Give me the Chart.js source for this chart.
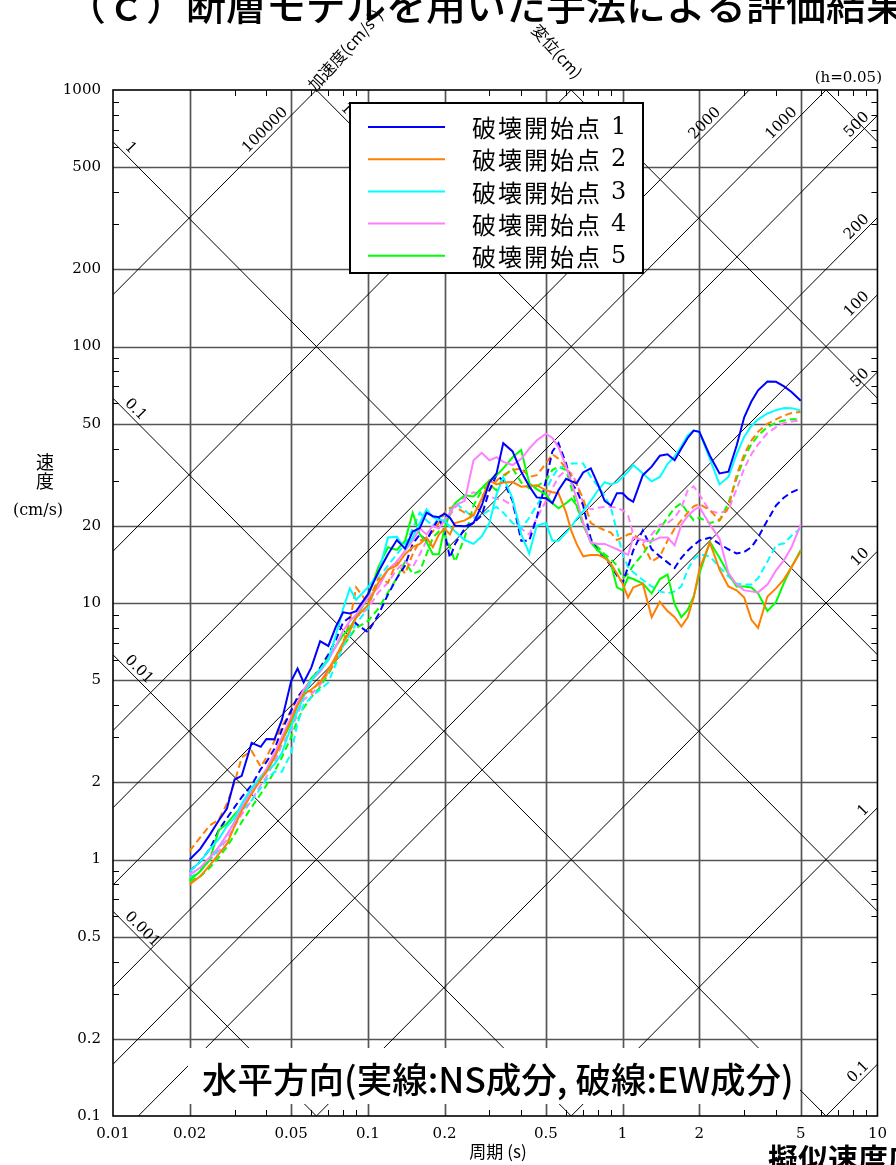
<!DOCTYPE html>
<html><head><meta charset="utf-8">
<script src="https://cdn.jsdelivr.net/npm/chart.js@4.4.0/dist/chart.umd.min.js"></script>
<style>html,body{margin:0;padding:0;background:#fff;}canvas{display:block;}</style>
</head><body>
<canvas id="c" width="896" height="1165"></canvas>
<script>
// ---- data ----
const periods = [0.02,0.022,0.024,0.026,0.028, 0.03,0.032,0.035,0.038,0.04, 0.043,0.046,0.05,0.053,0.056,
  0.06,0.065,0.07,0.075,0.08, 0.085,0.09,0.1,0.11,0.12, 0.13,0.14,0.15,0.16,0.17,
  0.18,0.19,0.2,0.21,0.22, 0.24,0.26,0.28,0.3,0.32, 0.34,0.37,0.4,0.43,0.46,
  0.5,0.53,0.56,0.6,0.63, 0.66,0.7,0.75,0.8,0.85, 0.9,0.95,1.0,1.05,1.1,
  1.2,1.3,1.4,1.5,1.6, 1.7,1.8,1.9,2.0,2.2, 2.4,2.6,2.8,3.0,3.2, 3.4,3.7,4.0,4.3,4.6, 5.0];

const pt1NS = [1.0,1.1,1.25,1.42,1.58, 2.05,2.12,2.85,2.75,2.95, 2.94,3.5,4.95,5.55,4.9,
  5.6,7.1,6.8,8.1,9.2, 9.1,9.3,10.8,13.2,15.5, 17.6,16.3,19.0,19.6,22.5,
  21.8,21.6,22.3,21.5,20.0, 19.9,20.5,24.0,29.5,32.0, 42.0,39.0,32.5,28.5,25.8,
  25.6,24.5,27.5,30.5,29.8, 29.3,32.3,33.5,29.0,25.0, 24.0,26.8,26.8,25.5,24.8,
  31.5,34.0,37.5,38.0,36.0, 40.0,44.0,47.0,46.5,37.5, 32.0,32.5,41.0,53.0,61.0, 67.5,73.0,72.8,69.9,66.5, 61.5];
const pt1EW = [0.9,0.98,1.1,1.3,1.45, 1.6,1.75,1.95,2.25,2.4, 2.7,3.2,3.8,4.3,4.6,
  5.0,5.6,6.3,7.2,8.4, 8.8,8.3,7.7,9.0,10.8, 12.5,14.0,17.0,18.5,17.5,
  19.5,21.5,19.0,15.0,17.0, 19.5,20.5,22.0,27.5,31.5, 30.0,25.0,17.5,17.5,21.5,
  30.0,39.0,42.0,35.0,29.3, 27.5,24.0,17.8,16.0,15.0, 14.0,12.8,12.0,13.8,16.0,
  19.2,16.2,15.2,14.4,13.7, 15.0,16.0,16.8,17.5,18.0, 17.0,16.2,15.6,15.8,16.5, 18.0,21.0,24.0,25.8,27.0, 28.0];
const pt2NS = [0.8,0.86,0.95,1.05,1.15, 1.35,1.55,1.8,2.05,2.2, 2.5,2.9,3.5,4.0,4.4,
  4.6,4.9,5.5,6.2,7.0, 7.8,8.8,9.8,12.0,13.5, 14.0,15.5,16.5,17.0,18.0,
  16.5,18.5,19.5,18.5,20.5, 21.0,22.0,25.5,30.0,29.0, 29.5,29.6,28.4,28.6,28.8,
  27.5,27.0,26.8,22.5,19.0, 17.0,15.2,15.4,15.4,15.0, 14.2,13.0,11.9,10.5,11.5,
  11.9,8.8,10.1,9.3,8.8, 8.1,8.8,10.5,13.5,17.2, 13.5,11.6,11.2,10.5,8.6, 8.0,10.6,11.4,12.4,13.8, 15.9];
const pt2EW = [1.08,1.22,1.36,1.43,1.65, 2.0,2.5,2.65,2.3,2.5, 2.9,3.3,3.8,4.3,4.6,
  4.5,5.0,5.3,6.0,7.0, 8.5,11.5,10.0,12.5,12.0, 14.5,13.0,15.5,17.5,18.0,
  19.0,20.5,22.5,23.5,23.7, 22.5,22.0,25.0,27.5,30.0, 31.5,33.0,33.5,31.0,31.5,
  35.0,38.0,36.5,33.5,31.5, 29.0,25.5,20.5,19.8,19.2, 18.8,17.6,18.0,18.5,18.7,
  17.0,14.5,15.2,17.5,19.5, 21.0,22.5,23.8,24.3,23.0, 21.0,23.5,31.5,38.0,43.0, 46.5,50.0,52.0,53.8,55.0, 55.7];
const pt3NS = [0.9,0.98,1.1,1.2,1.35, 1.45,1.65,1.9,2.1,2.2, 2.35,2.6,3.3,3.8,4.3,
  5.0,5.5,6.0,7.5,9.5, 11.4,10.3,11.5,13.0,18.0, 18.1,16.2,18.0,20.5,23.2,
  21.6,21.1,21.0,19.8,19.0, 17.6,17.0,18.2,20.5,26.5, 31.0,25.5,18.5,15.6,20.0,
  20.5,17.5,17.5,18.8,19.9, 21.3,22.8,25.0,27.5,29.6, 29.0,29.5,31.0,32.5,34.5,
  32.0,29.8,31.0,34.8,37.3, 40.8,45.0,47.0,46.5,36.5, 29.0,31.0,38.0,44.5,49.0, 52.0,54.8,56.5,57.6,57.5, 56.3];
const pt3EW = [0.85,0.9,1.0,1.1,1.25, 1.4,1.55,1.7,1.9,2.05, 2.2,2.2,2.6,3.4,4.0,
  4.3,4.6,4.9,5.8,6.8, 7.5,8.3,9.5,12.5,14.0, 15.5,17.0,19.5,22.5,21.0,
  20.0,21.5,22.0,23.0,24.5, 23.0,21.5,22.0,23.0,23.7, 22.5,20.5,19.5,21.5,24.0,
  27.5,31.0,33.5,34.5,35.0, 35.0,35.0,31.0,28.5,26.2, 23.5,19.0,15.5,13.8,13.2,
  12.3,11.6,11.1,10.9,11.1, 11.6,13.5,14.8,15.5,15.2, 13.8,12.7,11.9,11.8,11.8, 12.5,14.5,16.8,17.1,18.3, 19.6];
const pt4NS = [0.87,0.93,1.02,1.12,1.25, 1.4,1.6,1.85,2.1,2.25, 2.6,3.0,3.6,4.1,4.6,
  5.0,5.4,6.0,6.8,7.8, 8.5,9.0,10.5,11.5,13.5, 14.5,16.0,17.5,19.5,18.5,
  20.0,19.5,21.0,22.5,24.0, 25.0,36.0,38.5,36.0,37.0, 35.5,34.5,36.5,40.0,43.0,
  45.7,44.0,40.5,34.0,29.5, 25.5,20.5,17.2,17.0,17.0, 16.6,16.2,15.8,15.4,18.0,
  17.6,17.4,18.0,18.0,16.8, 20.2,21.8,23.0,23.7,20.2, 17.8,13.1,11.8,11.2,11.1, 11.0,11.8,13.4,14.7,16.5, 20.2];
const pt4EW = [0.88,0.92,1.0,1.08,1.2, 1.35,1.5,1.7,1.95,2.1, 2.4,2.8,3.2,3.7,4.2,
  4.4,4.8,5.4,6.2,7.0, 7.8,8.8,9.5,11.0,12.0, 13.5,14.5,13.8,15.5,17.5,
  19.5,21.0,20.5,22.0,23.5, 26.0,27.0,26.5,26.0,25.5, 25.2,24.0,19.5,18.5,21.4,
  25.0,28.0,31.0,33.0,32.0, 29.5,24.5,23.2,23.5,23.7, 23.7,23.5,23.0,22.0,18.5,
  17.1,18.5,20.2,20.5,21.5, 23.5,27.5,28.5,26.5,22.8, 22.4,23.0,27.8,33.5,38.0, 41.5,46.0,48.5,50.3,51.0, 51.5];
const pt5NS = [0.83,0.9,1.0,1.3,1.38, 1.5,1.6,1.9,2.05,2.2, 2.5,2.9,3.4,4.0,4.5,
  5.1,5.5,6.1,6.8,7.5, 8.0,8.8,10.5,13.8,16.5, 16.1,17.5,22.5,18.5,17.3,
  15.5,15.5,19.5,22.4,24.5, 26.3,26.0,28.0,30.0,31.5, 33.5,37.0,39.5,29.3,27.8,
  26.5,24.5,23.4,24.5,25.5, 24.0,20.5,17.2,16.0,15.3, 14.2,11.5,11.2,12.6,12.4,
  11.9,10.9,12.4,12.9,9.9, 8.8,9.4,10.6,13.0,17.3, 15.0,13.0,11.6,11.6,11.5, 10.9,9.3,10.1,12.0,13.8, 16.1];
const pt5EW = [0.82,0.86,0.93,1.02,1.12, 1.25,1.4,1.6,1.8,1.95, 2.2,2.5,3.0,3.5,3.9,
  4.3,4.7,5.3,6.0,6.8, 7.4,8.0,8.5,9.5,11.0, 12.5,14.5,13.0,13.3,15.5,
  18.0,19.0,18.5,16.5,14.5, 18.0,24.0,27.5,29.0,27.5, 31.0,33.5,29.5,28.0,28.5,
  30.0,33.0,34.0,33.0,28.0, 24.0,20.0,17.5,16.5,15.5, 14.8,14.0,12.5,13.0,14.0,
  15.5,17.5,19.5,21.5,23.5, 24.5,22.5,21.0,21.5,20.5, 21.0,24.5,30.5,37.0,41.5, 45.0,48.5,50.5,51.5,52.0, 52.0];

const legendNames = ['破壊開始点','破壊開始点','破壊開始点','破壊開始点','破壊開始点'];
const legendNums = ['1','2','3','4','5'];
const seriesColors = ['#0000ff','#ff8000','#00ffff','#ff80ff','#00ff00'];
const xTickVals = [0.01,0.02,0.05,0.1,0.2,0.5,1,2,5,10];
const yTickVals = [0.1,0.2,0.5,1,2,5,10,20,50,100,200,500,1000];
const accLines = [0.1,1,10,50,100,200,500,1000,2000,10000,100000];   // cm/s2
const dispLines = [0.001,0.01,0.1,1,10,100,1000];                     // cm
const dispLabelled = [0.001,0.01,0.1,1,10,100];

// ---- chart ----
const nsSets = [pt1NS,pt2NS,pt3NS,pt4NS,pt5NS];
const ewSets = [pt1EW,pt2EW,pt3EW,pt4EW,pt5EW];
const toPts = v => periods.map((t,i)=>({x:t,y:v[i]}));
const datasets = [];
nsSets.forEach((v,i)=>datasets.push({label:legendNames[i]+' '+legendNums[i]+' NS',data:toPts(v),borderColor:seriesColors[i],borderWidth:2,pointRadius:0,showLine:true,fill:false,tension:0}));
ewSets.forEach((v,i)=>datasets.push({label:legendNames[i]+' '+legendNums[i]+' EW',data:toPts(v),borderColor:seriesColors[i],borderWidth:2,borderDash:[7,4],pointRadius:0,showLine:true,fill:false,tension:0}));

const SERIF = '"DejaVu Serif", "Liberation Serif", serif';
const JP = '"Noto Sans CJK JP", "Noto Sans", sans-serif';
const TWO_PI = 2*Math.PI;

function fmt(v){ return String(v); }

const tripartite = {
  id:'tripartite',
  beforeDatasetsDraw(chart){
    const {ctx, chartArea:a, scales:{x,y}} = chart;
    const P = (t,v)=>[x.getPixelForValue(t), y.getPixelForValue(v)];
    ctx.save();
    // main grid
    ctx.strokeStyle = '#555'; ctx.lineWidth = 1.7;
    xTickVals.slice(1,-1).forEach(t=>{const px=Math.round(x.getPixelForValue(t))+0.5; ctx.beginPath(); ctx.moveTo(px,a.top); ctx.lineTo(px,a.bottom); ctx.stroke();});
    yTickVals.slice(1,-1).forEach(v=>{const py=Math.round(y.getPixelForValue(v))+0.5; ctx.beginPath(); ctx.moveTo(a.left,py); ctx.lineTo(a.right,py); ctx.stroke();});
    // minor ticks
    ctx.strokeStyle = '#000'; ctx.lineWidth = 1;
    const mins = [3,4,6,7,8,9];
    [0.01,0.1,1].forEach(d=>mins.forEach(m=>{const px=Math.round(x.getPixelForValue(d*m))+0.5; ctx.beginPath(); ctx.moveTo(px,a.top); ctx.lineTo(px,a.top+6); ctx.moveTo(px,a.bottom); ctx.lineTo(px,a.bottom-6); ctx.stroke();}));
    [0.1,1,10,100].forEach(d=>mins.forEach(m=>{const py=Math.round(y.getPixelForValue(d*m))+0.5; ctx.beginPath(); ctx.moveTo(a.left,py); ctx.lineTo(a.left+6,py); ctx.moveTo(a.right,py); ctx.lineTo(a.right-6,py); ctx.stroke();}));
    // diagonals
    ctx.save();
    ctx.beginPath(); ctx.rect(a.left,a.top,a.right-a.left,a.bottom-a.top); ctx.clip();
    ctx.strokeStyle = '#000'; ctx.lineWidth = 1;
    const Tmin=x.min, Tmax=x.max, Vmin=y.min, Vmax=y.max;
    const accSeg = A => { const t1=Math.max(Tmin,TWO_PI*Vmin/A), t2=Math.min(Tmax,TWO_PI*Vmax/A); return [t1,A*t1/TWO_PI,t2,A*t2/TWO_PI]; };
    const dispSeg = D => { const t1=Math.max(Tmin,TWO_PI*D/Vmax), t2=Math.min(Tmax,TWO_PI*D/Vmin); return [t1,TWO_PI*D/t1,t2,TWO_PI*D/t2]; };
    accLines.forEach(A=>{const s=accSeg(A); if(s[0]>=s[2]) return; const p1=P(s[0],s[1]), p2=P(s[2],s[3]); ctx.beginPath(); ctx.moveTo(p1[0],p1[1]); ctx.lineTo(p2[0],p2[1]); ctx.stroke();});
    dispLines.forEach(D=>{const s=dispSeg(D); if(s[0]>=s[2]) return; const p1=P(s[0],s[1]), p2=P(s[2],s[3]); ctx.beginPath(); ctx.moveTo(p1[0],p1[1]); ctx.lineTo(p2[0],p2[1]); ctx.stroke();});
    ctx.restore();
    // diagonal labels
    ctx.fillStyle = '#000'; ctx.font = '15px '+SERIF;
    accLines.forEach(A=>{
      const s=accSeg(A); if(s[0]>=s[2]) return;
      const p1=P(s[0],s[1]), p2=P(s[2],s[3]);
      const ang=Math.atan2(p2[1]-p1[1],p2[0]-p1[0]);
      const L=Math.hypot(p2[0]-p1[0],p2[1]-p1[1]);
      const ux=(p1[0]-p2[0])/L, uy=(p1[1]-p2[1])/L;
      const d = (s[2]>=Tmax-1e-9) ? 7 : 36;
      ctx.save(); ctx.translate(p2[0]+ux*d, p2[1]+uy*d); ctx.rotate(ang);
      ctx.textAlign='right'; ctx.textBaseline='alphabetic'; ctx.fillText(fmt(A),0,-4); ctx.restore();
    });
    dispLabelled.forEach(D=>{
      const s=dispSeg(D); if(s[0]>=s[2]) return;
      const p1=P(s[0],s[1]), p2=P(s[2],s[3]);
      const ang=Math.atan2(p2[1]-p1[1],p2[0]-p1[0]);
      const L=Math.hypot(p2[0]-p1[0],p2[1]-p1[1]);
      const ux=(p2[0]-p1[0])/L, uy=(p2[1]-p1[1])/L;
      const d = (s[0]<=Tmin+1e-12) ? 12 : 30;
      ctx.save(); ctx.translate(p1[0]+ux*d, p1[1]+uy*d); ctx.rotate(ang);
      ctx.textAlign='left'; ctx.textBaseline='alphabetic'; ctx.fillText(fmt(D),0,-4); ctx.restore();
    });
    ctx.restore();
  },
  afterDatasetsDraw(chart){
    const {ctx, chartArea:a} = chart;
    ctx.save();
    // annotation box
    ctx.fillStyle='#fff'; ctx.fillRect(188,1048,612,56);
    const note='水平方向(実線:NS成分, 破線:EW成分)';
    let fs=32; ctx.font='500 '+fs+'px '+JP;
    fs = fs*592/ctx.measureText(note).width; ctx.font='500 '+fs.toFixed(1)+'px '+JP;
    ctx.fillStyle='#000'; ctx.textAlign='left'; ctx.textBaseline='middle';
    ctx.fillText(note,202,1080);
    // border
    ctx.strokeStyle='#000'; ctx.lineWidth=1.6;
    ctx.strokeRect(a.left,a.top,a.right-a.left,a.bottom-a.top);
    // legend
    ctx.fillStyle='#fff'; ctx.fillRect(350,103,293,170);
    ctx.lineWidth=2; ctx.strokeStyle='#000'; ctx.strokeRect(350,103,293,170);
    ctx.textBaseline='middle'; ctx.textAlign='left';
    legendNames.forEach((n,i)=>{
      const yy=127+i*32.2;
      ctx.strokeStyle=seriesColors[i]; ctx.lineWidth=2; ctx.setLineDash([]);
      ctx.beginPath(); ctx.moveTo(368,yy); ctx.lineTo(445,yy); ctx.stroke();
      ctx.fillStyle='#000';
      ctx.font='24px '+JP; ctx.letterSpacing='2px'; ctx.fillText(n,472,yy+1);
      ctx.letterSpacing='0px';
      ctx.font='24px '+SERIF; ctx.fillText(legendNums[i],611,yy+1);
    });
    // axis titles and other texts
    ctx.fillStyle='#000';
    ctx.font='17px '+JP; ctx.textAlign='center'; ctx.textBaseline='middle';
    ctx.fillText('周期 (s)',498,1152);
    ctx.font='18px '+JP; ctx.fillText('速',45,462); ctx.fillText('度',45,481);
    ctx.font='16px '+SERIF; ctx.fillText('(cm/s)',38,511);
    ctx.textAlign='right'; ctx.font='15px '+SERIF; ctx.fillText('(h=0.05)',882,78);
    // rotated axis names
    ctx.font='16px '+JP; ctx.textAlign='left';
    ctx.save(); ctx.translate(311,88); ctx.rotate(-48*Math.PI/180); ctx.fillText('加速度(cm/s²)',0,0); ctx.restore();
    ctx.save(); ctx.translate(535,27); ctx.rotate(48*Math.PI/180); ctx.fillText('変位(cm)',0,0); ctx.restore();
    // cut-off page texts
    ctx.font='500 40px '+JP; ctx.textAlign='left'; ctx.textBaseline='middle';
    ctx.fillText('（ｃ）断層モデルを用いた手法による評価結果（破壊開始点の比較）',66,5);
    ctx.font='bold 30px '+JP; ctx.textBaseline='top';
    ctx.fillText('擬似速度応答スペクトル',768,1144);
    ctx.restore();
  }
};

new Chart(document.getElementById('c'), {
  type:'scatter',
  data:{datasets},
  options:{
    responsive:false, animation:false, devicePixelRatio:1,
    layout:{padding:{left:0,top:90,right:10,bottom:0}},
    plugins:{legend:{display:false}, tooltip:{enabled:false}},
    scales:{
      x:{type:'logarithmic', min:0.01, max:10,
         grid:{display:false, drawTicks:false}, border:{display:false},
         afterBuildTicks:s=>{s.ticks=xTickVals.map(v=>({value:v}));},
         afterFit:s=>{s.height=49;},
         ticks:{autoSkip:false, maxRotation:0, padding:9, color:'#000', font:{family:SERIF,size:15}, callback:v=>fmt(v)}},
      y:{type:'logarithmic', min:0.1, max:1000,
         grid:{display:false, drawTicks:false}, border:{display:false},
         afterBuildTicks:s=>{s.ticks=yTickVals.map(v=>({value:v}));},
         afterFit:s=>{s.width=113;},
         ticks:{autoSkip:false, padding:12, color:'#000', font:{family:SERIF,size:15}, callback:v=>fmt(v)}}
    }
  },
  plugins:[tripartite]
});
</script>
</body></html>
